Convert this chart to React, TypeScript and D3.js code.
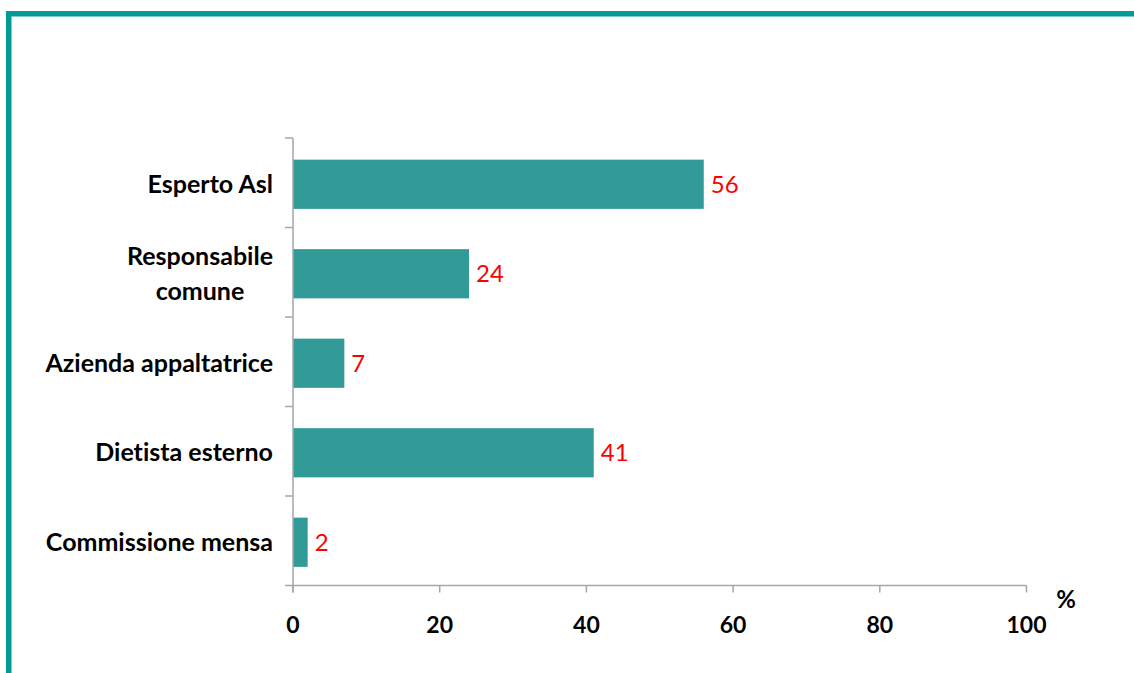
import React, { useEffect, useRef } from "react";
import * as d3 from "d3";

const categories: string[][] = [
  ["Esperto Asl"],
  ["Responsabile", "comune"],
  ["Azienda appaltatrice"],
  ["Dietista esterno"],
  ["Commissione mensa"],
];
const values: number[] = [56, 24, 7, 41, 2];
const xTicks: number[] = [0, 20, 40, 60, 80, 100];
const unitLabel = "%";

const W = 1134;
const H = 673;
const FONT = "Lato, 'Open Sans', sans-serif";

export default function App() {
  const ref = useRef<SVGSVGElement>(null);

  useEffect(() => {
    const svg = d3.select(ref.current);
    svg.selectAll("*").remove();
    svg.style("font-variant-ligatures", "none");

    // frame
    svg.append("rect").attr("x", 6).attr("y", 11).attr("width", W - 6).attr("height", 5.5).attr("fill", "#009B95");
    svg.append("rect").attr("x", 6).attr("y", 11).attr("width", 5.5).attr("height", H - 11).attr("fill", "#009B95");

    const x0 = 293, x1 = 1026.5, yTop = 138, yBot = 585.5;
    const off = 1.5;
    const x = d3.scaleLinear().domain([0, 100]).range([x0, x1]);
    const y = d3.scaleBand<number>().domain(d3.range(values.length)).range([yTop, yBot]).paddingInner(0.45).paddingOuter(0.225);
    const yEdges = d3.scaleLinear().domain([0, values.length]).range([yTop, yBot]);

    const axisColor = "#a6a6a6";
    // bars
    svg.append("g").selectAll("rect").data(values).join("rect")
      .attr("x", x(0))
      .attr("y", (_d, i) => y(i)! + off)
      .attr("width", (d) => x(d) - x(0))
      .attr("height", y.bandwidth())
      .attr("fill", "#339B97");

    // y axis
    svg.append("line").attr("x1", x0).attr("x2", x0).attr("y1", yTop).attr("y2", yBot + 7).attr("stroke", axisColor).attr("stroke-width", 1.5);
    d3.range(values.length).forEach((i) => {
      svg.append("line").attr("x1", x0 - 8).attr("x2", x0).attr("y1", yEdges(i)).attr("y2", yEdges(i)).attr("stroke", axisColor).attr("stroke-width", 1.5);
    });
    // x axis
    svg.append("line").attr("x1", x0 - 8).attr("x2", x1).attr("y1", yBot).attr("y2", yBot).attr("stroke", axisColor).attr("stroke-width", 1.5);
    xTicks.forEach((t) => {
      svg.append("line").attr("x1", x(t)).attr("x2", x(t)).attr("y1", yBot).attr("y2", yBot + 7).attr("stroke", axisColor).attr("stroke-width", 1.5);
      svg.append("text").attr("x", x(t)).attr("y", yBot + 47.5).attr("text-anchor", "middle")
        .attr("font-family", FONT).attr("font-weight", "bold").attr("font-size", 23).attr("fill", "#000").text(String(t));
    });
    svg.append("text").attr("x", 1066).attr("y", 608).attr("text-anchor", "middle")
      .attr("font-family", FONT).attr("font-weight", "bold").attr("font-size", 24).attr("fill", "#000").text(unitLabel);

    // category labels
    const lineH = 35;
    categories.forEach((lines, i) => {
      const cy = y(i)! + off + y.bandwidth() / 2;
      const startBase = cy + 8.5 - ((lines.length - 1) * lineH) / 2;
      const g = svg.append("g");
      const texts = lines.map((ln, j) =>
        g.append("text").attr("y", startBase + j * lineH)
          .attr("font-family", FONT).attr("font-weight", "bold").attr("font-size", 25).attr("fill", "#000").text(ln)
      );
      const widths = texts.map((t) => (t.node() as SVGTextElement).getComputedTextLength());
      const maxW = Math.max(...widths);
      const center = 273 - maxW / 2;
      texts.forEach((t) => t.attr("x", center).attr("text-anchor", "middle"));
    });

    // value labels
    svg.append("g").selectAll("text").data(values).join("text")
      .attr("x", (d) => x(d) + 7)
      .attr("y", (_d, i) => y(i)! + off + y.bandwidth() / 2 + 8.5)
      .attr("font-family", FONT).attr("font-size", 24).attr("fill", "#FF0000")
      .text((d) => String(d));
  }, []);

  return (
    <svg ref={ref} width={W} height={H} style={{ position: "absolute", left: 0, top: 0, background: "#fff" }} />
  );
}
